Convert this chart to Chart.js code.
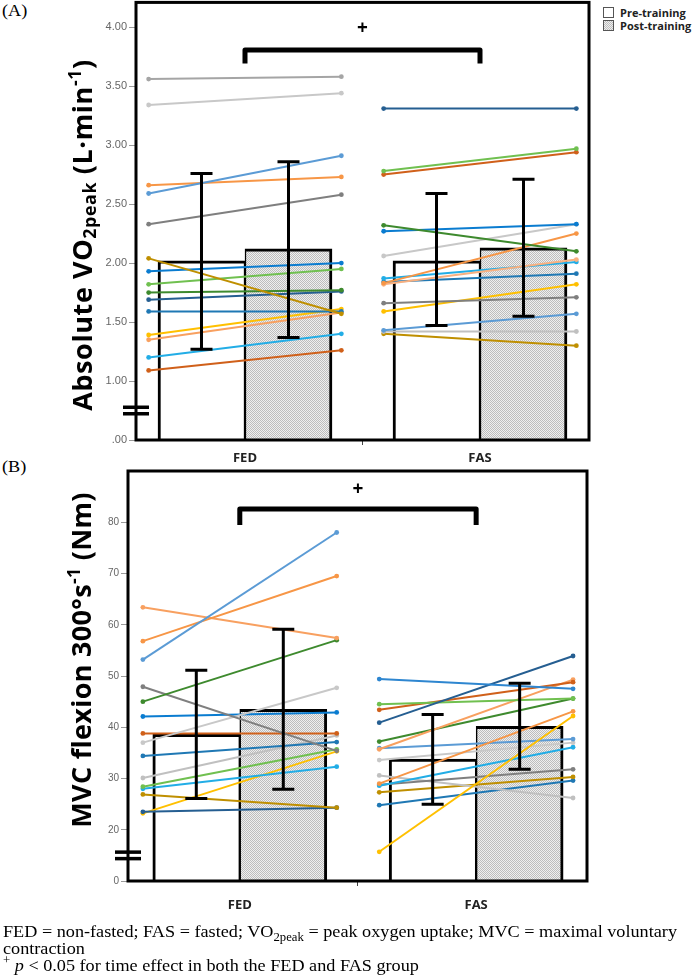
<!DOCTYPE html>
<html>
<head>
<meta charset="utf-8">
<script src="https://cdn.jsdelivr.net/npm/chart.js@4.4.1/dist/chart.umd.min.js"></script>
<style>
html,body{margin:0;padding:0;background:#fff;}
body{width:694px;height:978px;position:relative;overflow:hidden;}
canvas{position:absolute;left:0;}
.panel{position:absolute;left:2px;font-family:"Liberation Serif","Times New Roman",serif;font-size:17px;line-height:17px;color:#000;transform:scaleX(1.07);transform-origin:left top;}
.ytitle{position:absolute;font-family:"Open Sans",sans-serif;font-weight:700;font-size:27px;white-space:nowrap;transform:translate(-50%,-50%) rotate(-90deg);color:#000;line-height:1;}
.ytitle sub{font-size:0.66em;vertical-align:-0.25em;line-height:0;}
.ytitle sup{font-size:0.66em;vertical-align:0.6em;line-height:0;}
#legend{position:absolute;left:603px;top:6px;font-family:"Open Sans",sans-serif;font-weight:700;font-size:11px;color:#222;}
#legend .li{height:13px;line-height:13px;display:flex;align-items:center;}
#legend .box{display:inline-block;width:9px;height:9px;border:1px solid #555;margin-right:6px;background:#fff;}
#legend .box.post{background:repeating-conic-gradient(#bdbdbd 0 25%,#efefef 0 50%) 0 0/2px 2px;}
#note{position:absolute;left:3px;top:923px;font-family:"Liberation Serif","Times New Roman",serif;font-size:17px;line-height:17px;color:#000;transform:scaleX(1.07);transform-origin:left top;white-space:nowrap;}
#note sub,#note sup{font-size:0.7em;line-height:0;}
</style>
</head>
<body>
<div class="panel" style="top:2px;">(A)</div>
<div class="panel" style="top:458px;">(B)</div>
<div id="legend">
  <div class="li"><span class="box"></span>Pre-training</div>
  <div class="li"><span class="box post"></span>Post-training</div>
</div>
<canvas id="cA" width="694" height="470" style="top:0px;"></canvas>
<canvas id="cB" width="694" height="458" style="top:462px;"></canvas>
<div class="ytitle" style="left:81px;top:235px;letter-spacing:0.6px;">Absolute VO<sub>2peak</sub> (L·min<sup>-1</sup>)</div>
<div class="ytitle" style="left:80px;top:660px;letter-spacing:0.3px;">MVC flexion 300°s<sup>-1</sup> (Nm)</div>
<div id="note">FED = non-fasted; FAS = fasted; VO<sub>2peak</sub> = peak oxygen uptake; MVC = maximal voluntary<br>contraction<br><sup>+</sup> <i>p</i> &lt; 0.05 for time effect in both the FED and FAS group</div>

<script>
// ---------------- DATA ----------------
const categories = ['FED', 'FAS'];
const seriesNames = ['Pre-training', 'Post-training'];

// Panel A: absolute VO2peak (L·min-1)
const vo2BarPre = [2.02, 2.02];
const vo2BarPost = [2.12, 2.13];
const vo2ErrPreLow = [1.27, 1.47];
const vo2ErrPreHigh = [2.76, 2.59];
const vo2ErrPostLow = [1.37, 1.55];
const vo2ErrPostHigh = [2.86, 2.71];
const vo2FedPre  = [3.56, 3.34, 2.59, 2.66, 2.33, 2.04, 1.93, 1.82, 1.75, 1.69, 1.59, 1.39, 1.35, 1.20, 1.09];
const vo2FedPost = [3.58, 3.44, 2.91, 2.73, 2.58, 1.57, 2.00, 1.95, 1.77, 1.76, 1.59, 1.61, 1.58, 1.40, 1.26];
const vo2FasPre  = [3.31, 2.78, 2.75, 2.32, 2.27, 2.06, 1.83, 1.82, 1.87, 1.84, 1.66, 1.59, 1.43, 1.42, 1.40];
const vo2FasPost = [3.31, 2.97, 2.94, 2.10, 2.33, 2.33, 2.25, 2.03, 2.01, 1.91, 1.71, 1.82, 1.57, 1.42, 1.30];
const vo2TickValues = [0.5, 1.0, 1.5, 2.0, 2.5, 3.0, 3.5, 4.0];
const vo2TickLabels = ['.00', '1.00', '1.50', '2.00', '2.50', '3.00', '3.50', '4.00'];

// Panel B: MVC flexion 300°/s (Nm)
const mvcBarPre = [38.6, 33.8];
const mvcBarPost = [43.5, 40.2];
const mvcErrPreLow = [26.1, 25.0];
const mvcErrPreHigh = [51.1, 42.5];
const mvcErrPostLow = [27.9, 31.8];
const mvcErrPostHigh = [59.1, 48.6];
const mvcFedPre  = [53.2, 56.8, 63.4, 45.0, 47.9, 37.0, 42.1, 38.8, 34.4, 30.1, 28.4, 28.0, 26.9, 23.5, 23.2];
const mvcFedPost = [78.0, 69.5, 57.4, 57.0, 35.4, 47.7, 42.9, 38.8, 37.1, 38.4, 35.7, 32.3, 24.3, 24.3, 35.3];
const mvcFasPre  = [49.4, 40.9, 44.5, 43.4, 35.7, 37.2, 29.0, 15.7, 35.9, 33.6, 28.6, 28.8, 30.6, 27.3, 24.8];
const mvcFasPost = [47.5, 53.9, 45.6, 48.8, 49.3, 45.6, 43.1, 42.2, 37.7, 37.0, 36.1, 31.8, 26.2, 30.3, 29.6];
const mvcTickValues = [10, 20, 30, 40, 50, 60, 70, 80];
const mvcTickLabels = ['0', '20', '30', '40', '50', '60', '70', '80'];

// ---------------- STYLES ----------------
const vo2FedColors = ['#A5A5A5','#C8C8C8','#5B9BD5','#F79646','#7F7F7F','#BF8F00','#0A7CD0','#70C050','#3E8A2E','#255E91','#1F78B4','#FFC000','#F8A060','#22ADE6','#D0601A'];
const vo2FasColors = ['#255E91','#70C050','#D0601A','#3E8A2E','#0A7CD0','#C8C8C8','#F79646','#F8B080','#22ADE6','#1F78B4','#7F7F7F','#FFC000','#5B9BD5','#C0C0C0','#BF8F00'];
const mvcFedColors = ['#5B9BD5','#F79646','#F8A060','#3E8A2E','#7F7F7F','#C8C8C8','#0A7CD0','#D0601A','#1F78B4','#C0C0C0','#70C050','#22ADE6','#BF8F00','#255E91','#FFC000'];
const mvcFasColors = ['#2E86D0','#255E91','#70C050','#D0601A','#F8A060','#3E8A2E','#F79646','#FFC000','#5B9BD5','#C8C8C8','#22ADE6','#7F7F7F','#C0C0C0','#BF8F00','#1F78B4'];
const PRE_X = -0.41, POST_X = 0.41;

function stipple(ctx) {
  const c = document.createElement('canvas'); c.width = 2; c.height = 2;
  const g = c.getContext('2d');
  g.fillStyle = '#efefef'; g.fillRect(0, 0, 2, 2);
  g.fillStyle = '#bdbdbd'; g.fillRect(0, 0, 1, 1); g.fillRect(1, 1, 1, 1);
  return ctx.createPattern(c, 'repeat');
}

const overlayPlugin = {
  id: 'overlay',
  afterDatasetsDraw(chart, args, o) {
    const ctx = chart.ctx, a = chart.chartArea, xs = chart.scales.x, ys = chart.scales.y;
    ctx.save();
    ctx.strokeStyle = '#000'; ctx.fillStyle = '#000';
    ctx.lineWidth = 3; ctx.lineCap = 'butt';
    o.errors.forEach(e => {
      const meta = chart.getDatasetMeta(e.dataset);
      meta.data.forEach((bar, i) => {
        const cx = bar.x, lo = ys.getPixelForValue(e.low[i]), hi = ys.getPixelForValue(e.high[i]);
        ctx.beginPath();
        ctx.moveTo(cx, lo); ctx.lineTo(cx, hi);
        ctx.moveTo(cx - o.cap, hi); ctx.lineTo(cx + o.cap, hi);
        ctx.moveTo(cx - o.cap, lo); ctx.lineTo(cx + o.cap, lo);
        ctx.stroke();
      });
    });
    // frame
    ctx.lineWidth = 3;
    ctx.strokeRect(a.left, a.top, a.right - a.left, a.bottom - a.top);
    // axis break marks
    const yb = ys.getPixelForValue(o.breakAt);
    ctx.fillRect(a.left - 13, yb - 5, 26, 3.5);
    ctx.fillRect(a.left - 13, yb + 1.5, 26, 3.5);
    // significance bracket
    const l = xs.getPixelForValue(0), r = xs.getPixelForValue(1);
    ctx.lineWidth = 5; ctx.lineJoin = 'round';
    ctx.beginPath();
    ctx.moveTo(l, a.top + o.leg); ctx.lineTo(l, a.top + o.top);
    ctx.lineTo(r, a.top + o.top); ctx.lineTo(r, a.top + o.leg);
    ctx.stroke();
    ctx.font = 'bold 19px "Open Sans", sans-serif';
    ctx.textAlign = 'center'; ctx.textBaseline = 'middle';
    ctx.fillText('+', (l + r) / 2, a.top + o.plus);
    ctx.restore();
  }
};

function makeChart(id, p) {
  const ctx = document.getElementById(id).getContext('2d');
  const datasets = [
    { type: 'bar', label: seriesNames[0], data: categories.map((c, i) => ({ x: i, y: p.barPre[i] })),
      backgroundColor: '#ffffff', borderColor: '#000', borderWidth: { left: 3, top: 3, right: 1.5, bottom: 0 },
      barThickness: 87, order: 3 },
    { type: 'bar', label: seriesNames[1], data: categories.map((c, i) => ({ x: i, y: p.barPost[i] })),
      backgroundColor: stipple(ctx), borderColor: '#000', borderWidth: { left: 1.5, top: 3, right: 3, bottom: 0 },
      barThickness: 87, order: 3 }
  ];
  p.groups.forEach((g, gi) => {
    g.pre.forEach((v, i) => {
      datasets.push({
        type: 'line', label: categories[gi] + ' ' + (i + 1),
        data: [{ x: gi + PRE_X, y: v }, { x: gi + POST_X, y: g.post[i] }],
        borderColor: g.colors[i], backgroundColor: g.colors[i],
        borderWidth: 2, pointRadius: 2.4, pointBorderWidth: 0, pointHoverRadius: 0,
        order: 1
      });
    });
  });
  return new Chart(ctx, {
    type: 'bar',
    data: { datasets },
    options: {
      responsive: false, maintainAspectRatio: false, animation: false, events: [],
      layout: { padding: p.padding },
      plugins: {
        legend: { display: false }, tooltip: { enabled: false },
        overlay: {
          errors: [
            { dataset: 0, low: p.errPreLow, high: p.errPreHigh },
            { dataset: 1, low: p.errPostLow, high: p.errPostHigh }
          ],
          cap: 11, breakAt: p.breakAt, top: p.bracket.top, leg: p.bracket.leg, plus: p.bracket.plus
        }
      },
      scales: {
        x: {
          type: 'linear', offset: false, min: p.xmin, max: p.xmax,
          afterBuildTicks: s => { s.ticks = categories.map((c, i) => ({ value: i })); },
          afterFit: s => { s.height = p.xHeight; s.paddingLeft = 0; s.paddingRight = 0; },
          ticks: { callback: (v) => categories[Math.round(v)], color: '#222', padding: p.xPad,
                   font: { family: 'Open Sans', weight: 'bold', size: 13 }, maxRotation: 0, autoSkip: false },
          grid: { display: true, drawOnChartArea: false, drawTicks: true, tickLength: 5, color: '#444', lineWidth: 1 },
          border: { display: false }
        },
        y: {
          type: 'linear', min: p.ymin, max: p.ymax,
          afterBuildTicks: s => { s.ticks = p.tickValues.map(v => ({ value: v })); },
          afterFit: s => { s.width = p.yWidth; s.paddingTop = 0; s.paddingBottom = 0; },
          ticks: { callback: (v) => p.tickLabels[p.tickValues.indexOf(v)], color: '#666', padding: 2,
                   font: { family: 'Liberation Sans', size: p.yFont } },
          grid: { display: true, drawOnChartArea: false, drawTicks: true, tickLength: 7, color: '#999', lineWidth: 1 },
          border: { display: false }
        }
      }
    },
    plugins: [overlayPlugin]
  });
}

makeChart('cA', {
  barPre: vo2BarPre, barPost: vo2BarPost,
  errPreLow: vo2ErrPreLow, errPreHigh: vo2ErrPreHigh, errPostLow: vo2ErrPostLow, errPostHigh: vo2ErrPostHigh,
  groups: [
    { pre: vo2FedPre, post: vo2FedPost, colors: vo2FedColors },
    { pre: vo2FasPre, post: vo2FasPost, colors: vo2FasColors }
  ],
  tickValues: vo2TickValues, tickLabels: vo2TickLabels,
  ymin: 0.5, ymax: 4.21, xmin: -0.4638, xmax: 1.4638,
  padding: { left: 0, right: 105, top: 2, bottom: 0 },
  yWidth: 136, xHeight: 30, xPad: 5, yFont: 11,
  breakAt: 0.75, bracket: { top: 47.5, leg: 61, plus: 26 }
});

makeChart('cB', {
  barPre: mvcBarPre, barPost: mvcBarPost,
  errPreLow: mvcErrPreLow, errPreHigh: mvcErrPreHigh, errPostLow: mvcErrPostLow, errPostHigh: mvcErrPostHigh,
  groups: [
    { pre: mvcFedPre, post: mvcFedPost, colors: mvcFedColors },
    { pre: mvcFasPre, post: mvcFasPost, colors: mvcFasColors }
  ],
  tickValues: mvcTickValues, tickLabels: mvcTickLabels,
  ymin: 10, ymax: 90, xmin: -0.473, xmax: 1.469,
  padding: { left: 0, right: 107, top: 9, bottom: 0 },
  yWidth: 128, xHeight: 39, xPad: 11, yFont: 10,
  breakAt: 15, bracket: { top: 38, leg: 54, plus: 19 }
});
</script>
</body>
</html>
